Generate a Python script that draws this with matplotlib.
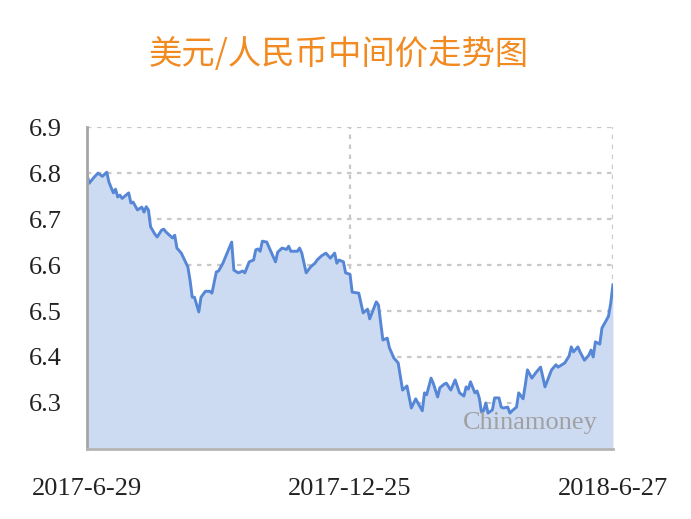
import matplotlib
matplotlib.use("Agg")
import matplotlib.pyplot as plt

# trading-day index (0 = 2017-6-29, 240 = 2018-6-27) and USD/CNY central parity
days = [0, 1, 3, 5, 7, 9, 10, 12, 13, 14, 15, 16, 19, 20, 21, 23, 25, 26, 27, 28,
        29, 31, 32, 34, 35, 36, 39, 40, 41, 43, 46, 47, 48, 49, 51, 52, 54, 56, 57, 59,
        60, 62, 66, 67, 69, 71, 72, 74, 76, 77, 78, 79, 80, 82, 86, 87, 89, 91, 92, 93,
        96, 97, 98, 100, 102, 104, 105, 107, 109, 111, 113, 114, 115, 117, 118, 120, 121, 124, 126, 128,
        129, 132, 133, 135, 137, 138, 140, 142, 143, 144, 146, 147, 148, 150, 151, 153, 154, 155, 157, 158,
        160, 161, 163, 164, 166, 168, 170, 172, 173, 174, 175, 177, 178, 179, 180, 181, 182, 183, 185, 186,
        188, 189, 190, 192, 193, 194, 196, 197, 199, 200, 201, 203, 205, 207, 209, 212, 214, 215, 218, 220,
        221, 222, 224, 225, 227, 229, 230, 231, 232, 234, 235, 237, 238, 239, 240]
rate = [6.796, 6.778, 6.790, 6.800, 6.793, 6.802, 6.780, 6.757, 6.765, 6.748, 6.752, 6.745, 6.757, 6.735, 6.737, 6.720, 6.726, 6.715, 6.727, 6.720,
        6.683, 6.667, 6.661, 6.676, 6.678, 6.672, 6.659, 6.665, 6.637, 6.626, 6.596, 6.567, 6.530, 6.530, 6.498, 6.530, 6.543, 6.543, 6.539, 6.585,
        6.587, 6.604, 6.650, 6.589, 6.583, 6.587, 6.583, 6.607, 6.611, 6.633, 6.635, 6.630, 6.652, 6.650, 6.607, 6.628, 6.637, 6.634, 6.641, 6.630,
        6.630, 6.637, 6.626, 6.583, 6.596, 6.604, 6.611, 6.620, 6.626, 6.615, 6.626, 6.604, 6.611, 6.607, 6.583, 6.580, 6.541, 6.539, 6.496, 6.504,
        6.483, 6.520, 6.513, 6.437, 6.441, 6.420, 6.398, 6.387, 6.357, 6.328, 6.337, 6.313, 6.289, 6.309, 6.300, 6.283, 6.322, 6.318, 6.354, 6.343,
        6.313, 6.333, 6.341, 6.343, 6.328, 6.350, 6.322, 6.315, 6.335, 6.330, 6.346, 6.322, 6.326, 6.311, 6.280, 6.283, 6.300, 6.278, 6.285, 6.311,
        6.311, 6.291, 6.289, 6.291, 6.278, 6.283, 6.291, 6.322, 6.309, 6.339, 6.372, 6.354, 6.367, 6.378, 6.335, 6.372, 6.383, 6.378, 6.387, 6.402,
        6.422, 6.411, 6.422, 6.411, 6.393, 6.404, 6.415, 6.400, 6.433, 6.428, 6.463, 6.480, 6.489, 6.517, 6.557]

xtick_pos = [0, 120, 240]
xtick_labels = ["2017-6-29", "2017-12-25", "2018-6-27"]
yticks = [6.3, 6.4, 6.5, 6.6, 6.7, 6.8, 6.9]
ytick_labels = ["6.3", "6.4", "6.5", "6.6", "6.7", "6.8", "6.9"]

fig = plt.figure(figsize=(6.91, 5.19), dpi=100)
ax = fig.add_axes([0.126, 0.135, 0.761, 0.62])

ax.fill_between(days, rate, 6.2, color="#cddbf2", lw=0)
ax.plot(days, rate, color="#5686d6", lw=2.1)

ax.set_xlim(0, 240)
ax.set_ylim(6.2, 6.9)

grid_kw = dict(color="#c8c8c8", lw=1.6, ls=(0, (2, 2.5)), zorder=0)
for y in yticks:
    ax.axhline(y, **grid_kw)
for x in xtick_pos[1:]:
    ax.axvline(x, **grid_kw)

for s in ["top", "right"]:
    ax.spines[s].set_visible(False)
ax.spines["left"].set_color("#a6a6a6")
ax.spines["left"].set_linewidth(2)
ax.spines["bottom"].set_color("#b5b5b5")
ax.spines["bottom"].set_linewidth(2)

ax.set_yticks(yticks)
ax.set_yticklabels(ytick_labels, family="Liberation Serif", fontsize=19, color="#222222")
ax.set_xticks(xtick_pos)
ax.set_xticklabels(xtick_labels, family="Liberation Serif", fontsize=19, color="#222222")
ax.tick_params(axis="y", length=0, pad=18)
ax.tick_params(axis="x", length=0, pad=21)

fig.text(0.49, 0.895, "美元/人民币中间价走势图", ha="center", va="center",
         fontsize=24, color="#f28a22", family=["Noto Sans CJK SC", "DejaVu Sans"])
ax.text(0.971, 0.08, "Chinamoney", transform=ax.transAxes, ha="right", va="center",
        fontsize=19, color="#a0a0a0", family="Liberation Serif")

fig.savefig("out.png", dpi=100)
